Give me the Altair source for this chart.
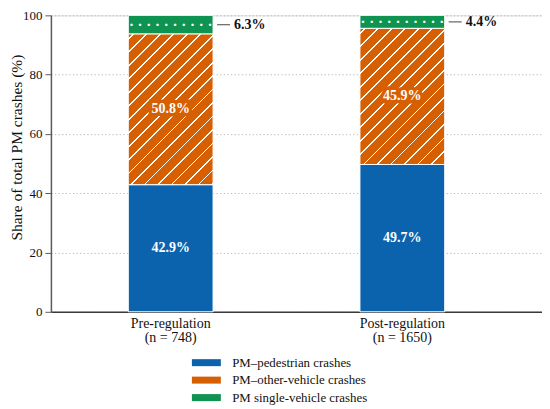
import altair as alt
import pandas as pd

# ---- data ----
periods = ["Pre-regulation", "Post-regulation"]
counts = [748, 1650]
series = ["PM–pedestrian crashes", "PM–other-vehicle crashes", "PM single-vehicle crashes"]
pedestrian = [42.9, 49.7]
other_vehicle = [50.8, 45.9]
single_vehicle = [6.3, 4.4]
colors = ["#0a63ac", "#d65f02", "#0e9350"]

FONT = "Liberation Serif"
PW, PH = 492, 297
PI, PO, AL = 0.634, 0.377, 0.443
step = PW / (len(periods) - PI + 2 * PO)
BW = step * (1 - PI)

rows = []
for i, p in enumerate(periods):
    base = 0.0
    for k, vals in enumerate([pedestrian, other_vehicle, single_vehicle]):
        v = vals[i]
        rows.append(dict(period=f"{p}|(n = {counts[i]})", series=series[k], order=k,
                         key=f"{i}-{k}", value=v, y0=base, y1=base + v,
                         mid=base + v / 2, label=f"{v:.1f}%"))
        base += v
df = pd.DataFrame(rows)
period_sort = [f"{p}|(n = {c})" for p, c in zip(periods, counts)]


def hatch(W, H, color, spacing=13.5, lw=1.8, phase=5.0):
    L = W + H
    k = L / (W * W + H * H)
    stops = [{"offset": 0, "color": color}]
    c = phase
    while c - lw / 2 < L:
        a = max(0.0, (c - lw / 2) / L)
        b = min(1.0, (c + lw / 2) / L)
        stops += [{"offset": a, "color": color}, {"offset": a, "color": "white"},
                  {"offset": b, "color": "white"}, {"offset": b, "color": color}]
        c += spacing
    stops.append({"offset": 1, "color": color})
    return {"gradient": "linear", "x1": 0, "y1": 0, "x2": W * k, "y2": H * k, "stops": stops}


X = alt.X("period:N", sort=period_sort,
          scale=alt.Scale(paddingInner=PI, paddingOuter=PO, align=AL, round=False),
          axis=alt.Axis(title=None, labelExpr="split(datum.label, '|')", labelAngle=0,
                        ticks=False, tickSize=0, domainColor="#3a3a3a", domainWidth=1.5,
                        labelFont=FONT, labelFontSize=14, labelColor="#111",
                        labelPadding=5, labelLineHeight=14, labelBaseline="top"))

YT = "Share of total PM crashes (%)"
yscale = alt.Scale(domain=[0, 100], nice=False)
yaxis = alt.Axis(values=[0, 20, 40, 60, 80, 100], format="d", grid=True,
                 gridDash=[1.2, 2.4], gridColor="#b5b5b5", gridWidth=1,
                 domainColor="#5a5a5a", domainWidth=1.5, tickColor="#5a5a5a",
                 tickSize=6, tickWidth=1, labelFont=FONT, labelFontSize=13,
                 labelColor="#111", labelPadding=3, titleFont=FONT,
                 titleFontSize=15.5, titleFontWeight="normal", titleColor="#111",
                 titleX=-29.2, titleY=132, titleAngle=270, titleAlign="center",
                 titleBaseline="alphabetic")

legend = alt.Legend(title=None, orient="none", legendX=141.3, legendY=341.5,
                    direction="vertical", symbolType="M-2.9,-0.7H2.9V0.7H-2.9Z",
                    symbolSize=100, symbolStrokeWidth=0, symbolOffset=8,
                    labelOffset=19.4, rowPadding=3.5, padding=0, labelLimit=300,
                    labelFont=FONT, labelFontSize=12.9, labelColor="#111")

base = alt.Chart(df)
Ymid = alt.Y("mid:Q", scale=yscale, title=YT)

bars = base.mark_bar(stroke="white", strokeWidth=1).encode(
    x=X,
    y=alt.Y("y0:Q", scale=yscale, axis=yaxis, title=YT),
    y2="y1:Q",
    color=alt.Color("series:N", scale=alt.Scale(domain=series, range=colors), legend=legend),
)

layers = [bars]
for i in range(len(periods)):
    H = other_vehicle[i] / 100 * PH
    layers.append(
        base.transform_filter(alt.datum.key == f"{i}-1")
        .mark_bar(fill=hatch(BW, H, colors[1]), stroke="white", strokeWidth=1)
        .encode(x=X, y=alt.Y("y0:Q", scale=yscale, title=YT), y2="y1:Q")
    )

dots = base.transform_filter(alt.datum.order == 2).mark_text(
    text=" ".join(["·"] * 12), color="white", font=FONT, fontSize=15,
    fontWeight="bold", baseline="middle", align="center"
).encode(x=X, y=Ymid)

halo = base.transform_filter(alt.datum.order == 1).mark_text(
    color=colors[1], stroke=colors[1], strokeWidth=7, strokeJoin="miter",
    font=FONT, fontSize=14, fontWeight="bold", baseline="middle"
).encode(x=X, y=Ymid, text="label:N")

inside = base.transform_filter(alt.datum.order < 2).mark_text(
    color="white", font=FONT, fontSize=14, fontWeight="bold", baseline="middle"
).encode(x=X, y=Ymid, text="label:N")

dash = base.transform_filter(alt.datum.order == 2).mark_tick(
    orient="horizontal", color="#222", thickness=1.2, size=13,
    xOffset=BW / 2 + 10.5
).encode(x=X, y=Ymid)

outside = base.transform_filter(alt.datum.order == 2).mark_text(
    color="#111", font=FONT, fontSize=14, fontWeight="bold", align="left",
    baseline="middle", dx=BW / 2 + 21
).encode(x=X, y=Ymid, text="label:N")

layers += [dots, halo, inside, dash, outside]

chart = alt.layer(*layers).properties(
    width=PW, height=PH,
    padding={"left": 43, "top": 7, "right": 0, "bottom": 93},
    autosize=alt.AutoSizeParams(type="none"),
    background="white",
).configure_view(stroke=None).configure(font=FONT)

chart.save("out.html", embed_options={"renderer": "svg", "actions": False})
